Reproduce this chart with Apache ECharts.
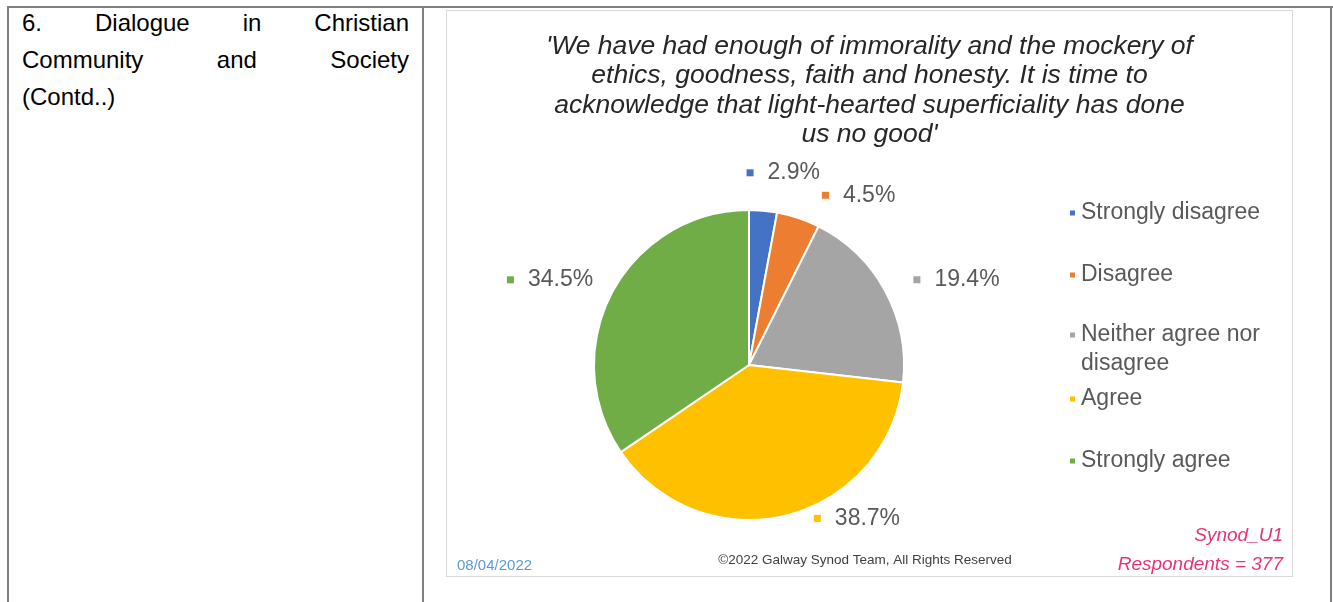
<!DOCTYPE html>
<html><head><meta charset="utf-8">
<script src="https://cdn.jsdelivr.net/npm/echarts/dist/echarts.min.js"></script>
<style>
html,body{margin:0;padding:0;background:#fff;}
#page{position:relative;width:1333px;height:602px;overflow:hidden;font-family:"Liberation Sans",Arial,sans-serif;}
.ln{position:absolute;background:#808080;}
.cell{position:absolute;left:22px;width:387px;top:4px;font-size:24px;line-height:37px;color:#000;}
.row{display:flex;justify-content:space-between;white-space:nowrap;}
#box{position:absolute;left:446px;top:10px;width:847px;height:567px;border:1px solid #d9d9d9;box-sizing:border-box;background:#fff;}
#chart{position:absolute;left:0;top:0;width:845px;height:565px;}
</style></head>
<body>
<div id="page">
  <div class="ln" style="left:7px;top:6px;width:1326px;height:2px;"></div>
  <div class="ln" style="left:7px;top:6px;width:2px;height:596px;"></div>
  <div class="ln" style="left:422px;top:6px;width:2px;height:596px;"></div>
  <div class="ln" style="left:1330px;top:6px;width:2px;height:596px;"></div>
  <div class="cell">
    <div class="row"><span>6.</span><span>Dialogue</span><span>in</span><span>Christian</span></div>
    <div class="row"><span>Community</span><span>and</span><span>Society</span></div>
    <div class="row"><span>(Contd..)</span></div>
  </div>
  <div id="box"><div id="chart"></div></div>
</div>
<script>
// ---- data ----
const categories = ['Strongly disagree', 'Disagree', 'Neither agree nor disagree', 'Agree', 'Strongly agree'];
const percentages = [2.9, 4.5, 19.4, 38.7, 34.5];
const titleLines = [
  "'We have had enough of immorality and the mockery of",
  "ethics, goodness, faith and honesty. It is time to",
  "acknowledge that light-hearted superficiality has done",
  "us no good'"
];
const dateText = '08/04/2022';
const copyrightText = '\u00A92022 Galway Synod Team, All Rights Reserved';
const codeText = 'Synod_U1';
const respondentsText = 'Respondents = 377';

// ---- styles ----
const colors = ['#4472C4', '#ED7D31', '#A5A5A5', '#FFC000', '#70AD47'];
const labelLen = [38, 24, 24, 3, 27];
const labelLen2 = [-25, 11, 2, 22, -10];
const FONT = '"Liberation Sans", Arial, sans-serif';

const rich = { g: { width: 14 }, t: { fontSize: 23, color: '#595959', fontFamily: FONT, lineHeight: 26 } };
colors.forEach((c, i) => { rich['sq' + i] = { width: 7, height: 7, backgroundColor: c }; });

const chart = echarts.init(document.getElementById('chart'), null, { renderer: 'canvas' });
const legendText = { fontSize: 23, color: '#595959', fontFamily: FONT, lineHeight: 29 };
const legendBase = { orient: 'vertical', left: 621, padding: 0, itemGap: 33, itemWidth: 7, itemHeight: 7, icon: 'rect',
  selectedMode: false, textStyle: legendText };
chart.setOption({
  animation: false,
  color: colors,
  title: [{
    text: titleLines.join('\n'), left: 'center', top: 21, padding: 0,
    textStyle: { fontSize: 26.5, fontStyle: 'italic', fontWeight: 'normal', color: '#262626', lineHeight: 29.3, fontFamily: FONT }
  }],
  legend: [
    Object.assign({}, legendBase, { top: 187.5, data: [categories[0], categories[1]] }),
    // wrapped item: a leading empty line keeps the marker beside the first text line
    Object.assign({}, legendBase, { top: 280.5, data: [categories[2]],
      formatter: n => '\n' + n.replace(' nor ', ' nor\n') }),
    Object.assign({}, legendBase, { top: 373.5, data: [categories[3], categories[4]] })
  ],
  graphic: [
    { type: 'text', x: 10, y: 555, style: { text: dateText, fill: '#5B9BD5', font: '15px ' + FONT, align: 'left', verticalAlign: 'middle' } },
    { type: 'text', x: 418, y: 549, style: { text: copyrightText, fill: '#404040', font: '13.5px ' + FONT, align: 'center', verticalAlign: 'middle' } },
    { type: 'text', x: 836, y: 525, style: { text: codeText, fill: '#E8337A', font: 'italic 19px ' + FONT, align: 'right', verticalAlign: 'middle' } },
    { type: 'text', x: 836, y: 554, style: { text: respondentsText, fill: '#E8337A', font: 'italic 19px ' + FONT, align: 'right', verticalAlign: 'middle' } }
  ],
  series: [{
    type: 'pie',
    center: [302, 354],
    radius: 155,
    startAngle: 90,
    clockwise: true,
    avoidLabelOverlap: false,
    itemStyle: { borderColor: '#fff', borderWidth: 2 },
    emphasis: { disabled: true },
    label: {
      show: true, position: 'outside', distanceToLabelLine: 5,
      formatter: p => '{sq' + p.dataIndex + '| }{g| }{t|' + p.value + '%}',
      rich: rich
    },
    labelLine: { show: false },
    data: categories.map((name, i) => ({
      name: name, value: percentages[i],
      labelLine: { show: false, length: labelLen[i], length2: labelLen2[i] }
    }))
  }]
});
</script>
</body></html>
